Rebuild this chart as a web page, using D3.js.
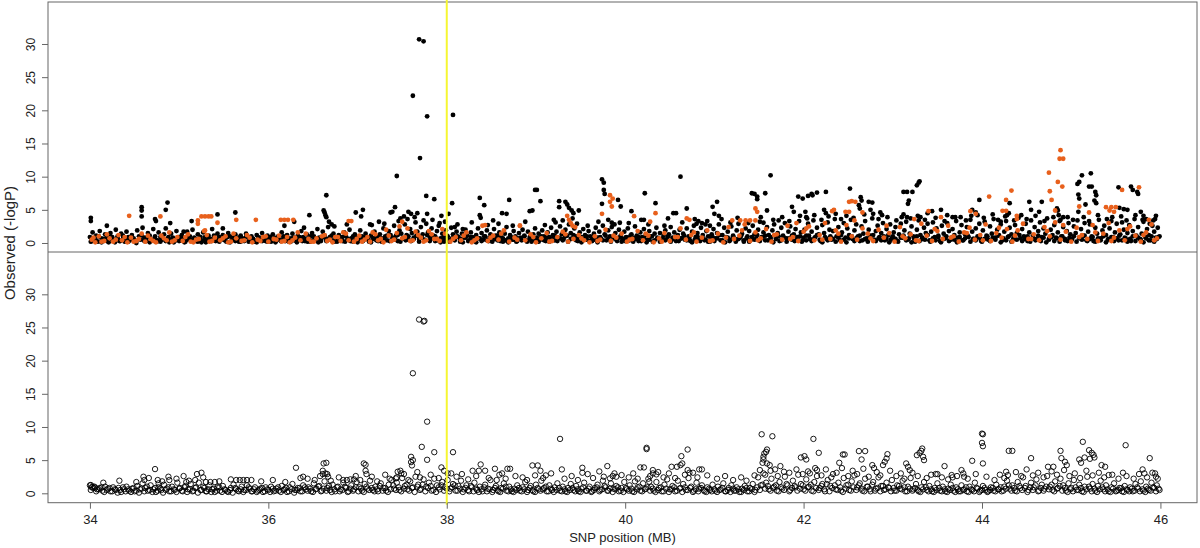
<!DOCTYPE html>
<html><head><meta charset="utf-8">
<script src="https://cdn.jsdelivr.net/npm/d3@7/dist/d3.min.js"></script>
<style>body{margin:0;background:#fff}svg{display:block;font-family:"Liberation Sans",Arial,Helvetica,sans-serif}</style>
</head><body>
<script>
// ---------- data ----------
const xTicks = [34, 36, 38, 40, 42, 44, 46];
const yTicks = [0, 5, 10, 15, 20, 25, 30];
const markerPos = 38;
const xTitle = "SNP position (MB)";
const yTitle = "Observed (-logP)";

// top panel, black points: dense band
const topBlackBand = [[34.00,0.9],[34.02,0.3],[34.03,1.6],[34.05,0.6],[34.07,1.1],[34.09,0.2],[34.11,1.8],[34.13,0.7],[34.15,0.4],[34.17,1.3],[34.19,0.8],[34.21,0.1],[34.23,1.5],[34.25,0.9],[34.27,0.5],[34.29,2.0],[34.31,1.0],[34.33,0.3],[34.35,1.4],[34.37,0.6],[34.39,0.2],[34.41,1.7],[34.43,0.9],[34.45,0.4],[34.47,1.2],[34.49,0.7],[34.51,0.2],[34.53,1.9],[34.55,1.0],[34.57,0.5],[34.59,2.3],[34.61,0.8],[34.63,0.3],[34.65,1.5],[34.67,1.1],[34.69,0.4],[34.71,2.1],[34.73,0.7],[34.75,0.2],[34.77,1.6],[34.79,0.9],[34.81,0.5],[34.83,1.3],[34.85,2.2],[34.87,0.6],[34.89,0.1],[34.91,1.4],[34.93,0.8],[34.95,0.3],[34.97,1.8],
[34.99,0.9],[35.01,0.4],[35.03,1.2],[35.05,0.6],[35.07,0.2],[35.09,1.7],[35.11,1.0],[35.13,0.5],[35.15,2.0],[35.17,0.8],[35.19,0.3],[35.21,1.3],[35.23,0.7],[35.25,0.1],[35.27,1.6],[35.29,0.9],[35.31,0.4],[35.33,1.1],[35.35,0.6],[35.37,2.1],[35.39,0.8],[35.41,0.3],[35.43,1.4],[35.45,0.9],[35.47,0.5],[35.49,1.2],[35.51,0.7],[35.53,0.2],[35.55,1.5],[35.57,1.0],[35.59,0.4],[35.61,0.8],[35.63,1.3],[35.65,0.6],[35.67,0.2],[35.69,1.1],[35.71,0.7],[35.73,0.3],[35.75,1.4],[35.77,0.9],[35.79,0.5],[35.81,1.0],[35.83,0.6],[35.85,0.2],[35.87,1.2],[35.89,0.8],[35.91,0.4],[35.93,1.5],[35.95,0.7],[35.97,0.3],
[35.99,1.1],[36.01,0.6],[36.03,0.2],[36.05,1.3],[36.07,0.8],[36.09,0.4],[36.11,1.0],[36.13,0.5],[36.15,1.6],[36.17,0.9],[36.19,0.3],[36.21,1.2],[36.23,0.7],[36.25,0.2],[36.27,1.4],[36.29,0.8],[36.31,0.4],[36.33,1.1],[36.35,0.6],[36.37,1.8],[36.39,0.9],[36.41,0.3],[36.43,1.3],[36.45,0.7],[36.47,0.2],[36.49,1.5],[36.51,1.0],[36.53,0.5],[36.55,2.1],[36.57,0.8],[36.59,0.3],[36.61,1.7],[36.63,1.1],[36.65,0.6],[36.67,2.4],[36.69,0.9],[36.71,0.4],[36.73,1.4],[36.75,0.7],[36.77,0.2],[36.79,1.2],[36.81,0.8],[36.83,0.3],[36.85,1.6],[36.87,1.0],[36.89,0.5],[36.91,2.0],[36.93,0.7],[36.95,0.2],[36.97,1.3],
[36.99,0.8],[37.01,0.4],[37.03,1.9],[37.05,1.0],[37.07,0.5],[37.09,1.4],[37.11,0.8],[37.13,0.2],[37.15,1.1],[37.17,0.6],[37.19,1.7],[37.21,0.9],[37.23,0.3],[37.25,1.3],[37.27,0.7],[37.29,2.2],[37.31,1.0],[37.33,0.4],[37.35,1.8],[37.37,1.2],[37.39,0.6],[37.41,2.6],[37.43,1.1],[37.45,0.3],[37.47,1.9],[37.49,1.4],[37.51,0.7],[37.53,2.8],[37.55,1.2],[37.57,0.5],[37.59,2.1],[37.61,1.5],[37.63,0.8],[37.65,3.1],[37.67,1.7],[37.69,0.6],[37.71,2.4],[37.73,1.3],[37.75,0.4],[37.77,2.9],[37.79,1.6],[37.81,0.9],[37.83,2.2],[37.85,1.1],[37.87,0.3],[37.89,1.8],[37.91,2.6],[37.93,0.7],[37.95,1.4],[37.97,0.2],
[37.99,1.9],[38.01,1.0],[38.03,0.5],[38.05,2.3],[38.07,1.3],[38.09,0.6],[38.11,1.7],[38.13,0.9],[38.15,0.2],[38.17,1.4],[38.19,0.8],[38.21,2.0],[38.23,1.1],[38.25,0.4],[38.27,1.6],[38.29,0.9],[38.31,0.3],[38.33,1.2],[38.35,2.2],[38.37,0.7],[38.39,1.5],[38.41,0.5],[38.43,1.0],[38.45,1.9],[38.47,0.3],[38.49,1.3],[38.51,0.8],[38.53,2.1],[38.55,1.1],[38.57,0.4],[38.59,1.6],[38.61,0.9],[38.63,0.2],[38.65,1.4],[38.67,2.4],[38.69,0.7],[38.71,1.2],[38.73,0.5],[38.75,1.8],[38.77,1.0],[38.79,0.3],[38.81,1.5],[38.83,0.8],[38.85,2.0],[38.87,1.1],[38.89,0.4],[38.91,1.7],[38.93,0.9],[38.95,0.2],[38.97,1.3],
[38.99,2.2],[39.01,0.8],[39.03,1.4],[39.05,0.5],[39.07,1.9],[39.09,1.0],[39.11,0.3],[39.13,1.6],[39.15,0.9],[39.17,2.3],[39.19,1.2],[39.21,0.4],[39.23,1.7],[39.25,0.8],[39.27,2.5],[39.29,1.3],[39.31,0.6],[39.33,2.0],[39.35,1.1],[39.37,2.8],[39.39,1.5],[39.41,0.7],[39.43,2.2],[39.45,1.0],[39.47,0.3],[39.49,1.6],[39.51,0.9],[39.53,2.1],[39.55,1.2],[39.57,0.5],[39.59,1.8],[39.61,1.0],[39.63,0.3],[39.65,1.4],[39.67,2.3],[39.69,0.8],[39.71,1.7],[39.73,0.6],[39.75,2.6],[39.77,1.3],[39.79,0.4],[39.81,1.9],[39.83,1.0],[39.85,2.4],[39.87,0.7],[39.89,1.5],[39.91,0.3],[39.93,2.0],[39.95,1.1],[39.97,0.6],
[39.99,1.7],[40.01,0.9],[40.03,2.2],[40.05,0.4],[40.07,1.3],[40.09,0.8],[40.11,2.5],[40.13,1.1],[40.15,0.3],[40.17,1.6],[40.19,0.9],[40.21,2.1],[40.23,1.2],[40.25,0.5],[40.27,1.8],[40.29,1.0],[40.31,0.2],[40.33,1.4],[40.35,2.3],[40.37,0.7],[40.39,1.5],[40.41,0.4],[40.43,1.1],[40.45,1.9],[40.47,0.6],[40.49,1.3],[40.51,2.4],[40.53,0.8],[40.55,1.6],[40.57,0.3],[40.59,1.2],[40.61,2.0],[40.63,0.7],[40.65,1.4],[40.67,0.5],[40.69,2.2],[40.71,1.0],[40.73,0.3],[40.75,1.7],[40.77,2.6],[40.79,0.9],[40.81,1.5],[40.83,0.6],[40.85,2.3],[40.87,1.2],[40.89,0.4],[40.91,1.8],[40.93,1.0],[40.95,0.2],[40.97,1.3],
[40.99,2.1],[41.01,0.7],[41.03,1.5],[41.05,2.8],[41.07,0.4],[41.09,1.2],[41.11,2.3],[41.13,0.9],[41.15,1.7],[41.17,0.3],[41.19,2.5],[41.21,1.1],[41.23,0.6],[41.25,1.9],[41.27,2.9],[41.29,0.8],[41.31,1.4],[41.33,0.2],[41.35,2.2],[41.37,1.0],[41.39,1.8],[41.41,0.5],[41.43,2.6],[41.45,1.3],[41.47,0.7],[41.49,2.0],[41.51,3.2],[41.53,0.9],[41.55,1.6],[41.57,0.4],[41.59,2.4],[41.61,1.2],[41.63,0.6],[41.65,1.9],[41.67,2.8],[41.69,0.8],[41.71,1.5],[41.73,0.3],[41.75,2.3],[41.77,1.1],[41.79,3.0],[41.81,0.7],[41.83,1.7],[41.85,2.5],[41.87,0.5],[41.89,1.3],[41.91,2.1],[41.93,0.9],[41.95,3.3],[41.97,1.6],
[41.99,0.4],[42.01,2.0],[42.03,1.1],[42.05,2.9],[42.07,0.6],[42.09,1.7],[42.11,3.4],[42.13,0.9],[42.15,2.3],[42.17,1.3],[42.19,0.3],[42.21,2.7],[42.23,1.5],[42.25,0.7],[42.27,3.1],[42.29,2.0],[42.31,0.5],[42.33,1.8],[42.35,3.6],[42.37,1.0],[42.39,2.4],[42.41,0.4],[42.43,1.6],[42.45,3.0],[42.47,0.8],[42.49,2.2],[42.51,1.2],[42.53,3.5],[42.55,0.6],[42.57,1.9],[42.59,2.8],[42.61,1.0],[42.63,0.3],[42.65,2.5],[42.67,1.4],[42.69,3.3],[42.71,0.7],[42.73,2.0],[42.75,1.1],[42.77,3.7],[42.79,0.5],[42.81,1.8],[42.83,2.6],[42.85,0.9],[42.87,1.5],[42.89,3.0],[42.91,0.4],[42.93,2.1],[42.95,1.2],[42.97,2.8],
[42.99,0.7],[43.01,1.6],[43.03,2.4],[43.05,0.3],[43.07,1.3],[43.09,2.9],[43.11,0.8],[43.13,1.9],[43.15,3.2],[43.17,0.5],[43.19,1.4],[43.21,2.5],[43.23,1.0],[43.25,0.2],[43.27,2.0],[43.29,3.4],[43.31,1.2],[43.33,0.6],[43.35,2.3],[43.37,1.5],[43.39,2.9],[43.41,0.4],[43.43,1.7],[43.45,3.1],[43.47,0.9],[43.49,2.2],[43.51,1.1],[43.53,0.3],[43.55,2.6],[43.57,1.4],[43.59,0.7],[43.61,3.0],[43.63,1.8],[43.65,0.5],[43.67,2.1],[43.69,1.2],[43.71,3.3],[43.73,0.8],[43.75,1.6],[43.77,2.7],[43.79,0.4],[43.81,1.3],[43.83,2.4],[43.85,0.9],[43.87,3.5],[43.89,1.7],[43.91,0.6],[43.93,2.2],[43.95,1.0],[43.97,2.9],
[43.99,0.3],[44.01,1.9],[44.03,3.2],[44.05,1.1],[44.07,0.5],[44.09,2.5],[44.11,1.4],[44.13,3.6],[44.15,0.8],[44.17,2.0],[44.19,1.2],[44.21,2.8],[44.23,0.4],[44.25,1.7],[44.27,3.3],[44.29,0.9],[44.31,2.3],[44.33,1.3],[44.35,0.6],[44.37,2.7],[44.39,1.5],[44.41,3.8],[44.43,0.7],[44.45,2.1],[44.47,1.0],[44.49,2.9],[44.51,0.3],[44.53,1.6],[44.55,3.4],[44.57,1.1],[44.59,2.4],[44.61,0.6],[44.63,1.8],[44.65,3.1],[44.67,0.9],[44.69,2.2],[44.71,1.4],[44.73,3.7],[44.75,0.5],[44.77,2.0],[44.79,1.2],[44.81,2.7],[44.83,0.8],[44.85,1.6],[44.87,3.3],[44.89,1.0],[44.91,2.4],[44.93,0.4],[44.95,1.8],[44.97,3.0],
[44.99,1.3],[45.01,0.6],[45.03,2.5],[45.05,1.5],[45.07,3.4],[45.09,0.8],[45.11,2.1],[45.13,1.1],[45.15,3.0],[45.17,0.4],[45.19,1.7],[45.21,2.8],[45.23,1.0],[45.25,0.3],[45.27,2.3],[45.29,1.4],[45.31,3.5],[45.33,0.7],[45.35,1.9],[45.37,2.6],[45.39,1.2],[45.41,0.5],[45.43,2.2],[45.45,3.3],[45.47,0.9],[45.49,1.6],[45.51,2.9],[45.53,0.4],[45.55,1.3],[45.57,3.1],[45.59,2.0],[45.61,0.7],[45.63,1.5],[45.65,2.7],[45.67,0.3],[45.69,1.8],[45.71,3.6],[45.73,1.1],[45.75,2.4],[45.77,0.6],[45.79,1.4],[45.81,3.2],[45.83,0.9],[45.85,2.1],[45.87,1.2],[45.89,0.4],[45.91,2.6],[45.93,1.7],[45.95,0.8],[45.97,2.3],[45.99,1.0]];

// top panel, black points: low core of the band
const topBlackCore = [[34.01,0.2],[34.04,0.7],[34.07,0.4],[34.10,1.0],[34.13,0.1],[34.16,0.6],[34.19,0.3],[34.22,0.9],[34.25,0.5],[34.28,0.1],[34.31,0.7],[34.34,0.3],[34.37,1.1],[34.40,0.5],[34.43,0.2],[34.46,0.8],[34.49,0.4],[34.52,0.0],[34.55,0.6],[34.58,1.2],[34.61,0.3],[34.64,0.8],[34.67,0.1],[34.70,0.5],[34.73,1.0],[34.76,0.4],[34.79,0.2],[34.82,0.7],[34.85,0.3],[34.88,0.9],[34.91,0.5],[34.94,0.1],[34.97,0.6],
[35.00,0.3],[35.03,0.8],[35.06,0.1],[35.09,0.5],[35.12,1.0],[35.15,0.3],[35.18,0.6],[35.21,0.2],[35.24,0.9],[35.27,0.4],[35.30,0.1],[35.33,0.7],[35.36,0.3],[35.39,1.1],[35.42,0.5],[35.45,0.2],[35.48,0.8],[35.51,0.4],[35.54,0.9],[35.57,0.1],[35.60,0.6],[35.63,0.3],[35.66,0.8],[35.69,0.2],[35.72,0.5],[35.75,0.9],[35.78,0.2],[35.81,0.6],[35.84,0.4],[35.87,0.1],[35.90,0.8],[35.93,0.3],[35.96,0.6],
[35.99,0.2],[36.02,0.9],[36.05,0.4],[36.08,0.1],[36.11,0.6],[36.14,0.3],[36.17,1.0],[36.20,0.5],[36.23,0.2],[36.26,0.7],[36.29,0.4],[36.32,0.1],[36.35,0.9],[36.38,0.3],[36.41,0.6],[36.44,0.2],[36.47,1.0],[36.50,0.4],[36.53,0.7],[36.56,0.1],[36.59,0.5],[36.62,0.9],[36.65,0.3],[36.68,0.6],[36.71,1.1],[36.74,0.2],[36.77,0.7],[36.80,0.4],[36.83,0.9],[36.86,0.2],[36.89,0.6],[36.92,0.3],[36.95,1.0],[36.98,0.5],
[37.00,0.1],[37.03,0.6],[37.06,0.3],[37.09,0.9],[37.12,0.5],[37.15,0.1],[37.18,0.7],[37.21,0.4],[37.24,1.0],[37.27,0.2],[37.30,0.6],[37.33,1.1],[37.36,0.3],[37.39,0.8],[37.42,0.5],[37.45,1.2],[37.48,0.2],[37.51,0.7],[37.54,0.4],[37.57,1.0],[37.60,0.3],[37.63,0.6],[37.66,1.1],[37.69,0.2],[37.72,0.8],[37.75,0.5],[37.78,1.2],[37.81,0.3],[37.84,0.7],[37.87,1.0],[37.90,0.4],[37.93,0.1],[37.96,0.8],
[37.98,0.5],[38.00,1.1],[38.03,0.2],[38.06,0.7],[38.09,0.4],[38.12,1.0],[38.15,0.6],[38.18,0.1],[38.21,0.8],[38.24,0.3],[38.27,0.9],[38.30,0.5],[38.33,0.1],[38.36,0.7],[38.39,0.3],[38.42,1.0],[38.45,0.4],[38.48,0.8],[38.51,0.2],[38.54,0.6],[38.57,1.1],[38.60,0.3],[38.63,0.7],[38.66,0.4],[38.69,0.1],[38.72,0.9],[38.75,0.5],[38.78,0.2],[38.81,0.7],[38.84,0.4],[38.87,1.0],[38.90,0.2],[38.93,0.6],[38.96,0.8],
[38.98,0.4],[39.00,0.6],[39.03,0.2],[39.06,1.0],[39.09,0.4],[39.12,0.8],[39.15,0.2],[39.18,0.6],[39.21,1.1],[39.24,0.3],[39.27,0.7],[39.30,0.4],[39.33,1.0],[39.36,0.2],[39.39,0.6],[39.42,1.2],[39.45,0.4],[39.48,0.8],[39.51,0.1],[39.54,0.6],[39.57,1.0],[39.60,0.3],[39.63,0.8],[39.66,0.5],[39.69,0.1],[39.72,0.9],[39.75,0.4],[39.78,1.1],[39.81,0.6],[39.84,0.2],[39.87,0.9],[39.90,0.5],[39.93,0.8],[39.96,0.2],
[39.98,0.6],[40.00,0.3],[40.03,0.8],[40.06,1.1],[40.09,0.2],[40.12,0.6],[40.15,0.9],[40.18,0.3],[40.21,0.7],[40.24,0.1],[40.27,0.5],[40.30,1.0],[40.33,0.4],[40.36,0.8],[40.39,0.2],[40.42,0.7],[40.45,0.4],[40.48,1.0],[40.51,0.2],[40.54,0.6],[40.57,0.9],[40.60,0.3],[40.63,0.7],[40.66,1.1],[40.69,0.4],[40.72,0.8],[40.75,0.1],[40.78,0.5],[40.81,1.0],[40.84,0.3],[40.87,0.7],[40.90,0.5],[40.93,0.2],[40.96,0.8],
[40.98,0.9],[41.00,0.3],[41.03,0.7],[41.06,1.2],[41.09,0.4],[41.12,0.1],[41.15,0.8],[41.18,0.5],[41.21,1.0],[41.24,0.2],[41.27,0.6],[41.30,1.1],[41.33,0.4],[41.36,0.7],[41.39,0.2],[41.42,0.9],[41.45,0.5],[41.48,1.2],[41.51,0.3],[41.54,0.8],[41.57,1.1],[41.60,0.4],[41.63,0.9],[41.66,0.1],[41.69,0.6],[41.72,1.0],[41.75,0.4],[41.78,0.8],[41.81,0.2],[41.84,0.7],[41.87,1.1],[41.90,0.3],[41.93,0.6],[41.96,1.0],
[41.98,0.2],[42.00,0.8],[42.03,0.4],[42.06,1.1],[42.09,0.3],[42.12,0.7],[42.15,1.2],[42.18,0.5],[42.21,0.1],[42.24,0.9],[42.27,0.4],[42.30,1.0],[42.33,0.6],[42.36,0.2],[42.39,0.8],[42.42,1.2],[42.45,0.5],[42.48,0.1],[42.51,0.7],[42.54,1.0],[42.57,0.3],[42.60,0.8],[42.63,1.1],[42.66,0.4],[42.69,0.6],[42.72,0.2],[42.75,0.9],[42.78,1.2],[42.81,0.3],[42.84,0.7],[42.87,0.4],[42.90,1.0],[42.93,0.6],[42.96,0.1],
[42.98,0.5],[43.00,1.0],[43.03,0.6],[43.06,0.2],[43.09,0.8],[43.12,1.1],[43.15,0.4],[43.18,0.7],[43.21,0.1],[43.24,0.6],[43.27,1.0],[43.30,0.3],[43.33,0.8],[43.36,0.5],[43.39,1.2],[43.42,0.2],[43.45,0.7],[43.48,0.4],[43.51,0.9],[43.54,0.1],[43.57,0.6],[43.60,1.0],[43.63,0.3],[43.66,0.8],[43.69,0.5],[43.72,0.1],[43.75,0.9],[43.78,0.4],[43.81,0.7],[43.84,1.1],[43.87,0.2],[43.90,0.6],[43.93,0.4],[43.96,0.9],
[43.98,0.7],[44.00,0.2],[44.03,0.6],[44.06,1.0],[44.09,0.3],[44.12,0.8],[44.15,0.5],[44.18,1.1],[44.21,0.1],[44.24,0.7],[44.27,0.4],[44.30,1.0],[44.33,0.2],[44.36,0.8],[44.39,0.5],[44.42,1.2],[44.45,0.3],[44.48,0.6],[44.51,1.0],[44.54,0.2],[44.57,0.7],[44.60,0.4],[44.63,1.1],[44.66,0.3],[44.69,0.8],[44.72,0.1],[44.75,0.6],[44.78,0.9],[44.81,0.3],[44.84,0.7],[44.87,0.2],[44.90,1.0],[44.93,0.6],[44.96,0.3],
[44.98,0.8],[45.00,0.4],[45.03,1.0],[45.06,0.2],[45.09,0.7],[45.12,0.5],[45.15,1.1],[45.18,0.3],[45.21,0.6],[45.24,0.9],[45.27,0.2],[45.30,0.7],[45.33,0.4],[45.36,1.0],[45.39,0.1],[45.42,0.6],[45.45,0.9],[45.48,0.3],[45.51,0.7],[45.54,1.1],[45.57,0.4],[45.60,0.8],[45.63,0.2],[45.66,0.6],[45.69,1.0],[45.72,0.3],[45.75,0.8],[45.78,0.5],[45.81,0.1],[45.84,0.7],[45.87,0.4],[45.90,1.0],[45.93,0.2],[45.96,0.6],[45.98,0.9]];

// top panel, black points: mid values (2-4.5)
const topBlackMid = [[36.18,2.6],[36.40,2.3],[36.88,2.8],[37.16,2.7],[37.24,3.2],[37.30,2.9],[37.46,3.3],[37.56,3.6],[37.64,3.9],[37.74,3.4],[37.84,3.5],[37.92,3.0],[38.12,2.8],[38.28,3.1],[38.46,2.7],[38.58,2.9],[38.74,2.6],[38.88,3.2],[39.10,2.7],[39.22,3.1],[39.30,3.4],[39.46,2.9],[39.58,2.6],[39.70,3.2],[39.88,2.8],[40.04,3.0],[40.26,2.8],[40.44,2.6],[40.64,3.1],[40.80,2.9],[40.92,3.3],[41.08,3.6],[41.18,3.1],[41.26,3.8],[41.38,3.0],[41.52,3.9],[41.66,3.5],[41.76,3.9],[41.84,3.3],[41.96,4.1],[42.04,3.7],[42.12,4.2],[42.20,3.5],[42.28,4.0],[42.36,4.4],[42.42,3.6],[42.48,4.1],[42.56,3.8],[42.68,4.3],[42.78,4.4],[42.84,3.6],[42.94,3.9],[43.04,3.4],[43.10,3.9],[43.20,3.7],[43.28,4.1],[43.36,3.5],[43.48,3.8],[43.58,3.3],[43.70,3.9],[43.82,3.4],[43.88,4.1],[44.02,3.8],[44.12,4.3],[44.18,3.5],[44.26,4.0],[44.36,3.4],[44.44,4.2],[44.50,3.6],[44.60,4.1],[44.70,3.3],[44.80,3.9],[44.88,3.5],[44.96,3.9],[45.02,3.5],[45.14,3.9],[45.20,3.3],[45.30,4.2],[45.40,3.6],[45.46,3.9],[45.56,4.0],[45.62,3.4],[45.72,4.2],[45.80,3.5],[45.88,2.9],[45.92,3.4]];

// top panel, black points: higher values
const topBlackHigh = [[34.01,3.8],[34.01,3.3],[34.19,2.6],[34.58,5.4],[34.58,4.9],[34.58,4.0],[34.73,3.6],[34.74,3.3],[34.85,5.0],[34.87,6.1],[34.90,3.0],[35.05,1.7],[35.14,3.3],[35.43,4.3],[35.49,2.2],[35.63,4.6],[36.29,3.2],[36.46,4.2],[36.62,4.9],[36.63,4.6],[36.64,4.2],[36.65,3.9],[36.65,7.2],[36.68,3.2],[36.71,2.8],[36.74,2.5],[36.98,4.6],[37.06,5.0],[37.04,4.0],[37.14,2.8],[37.37,4.6],[37.39,4.7],[37.42,5.4],[37.44,10.1],[37.48,3.7],[37.52,4.0],[37.57,4.7],[37.60,4.4],[37.67,4.5],[37.70,12.8],[37.77,7.1],[37.78,4.4],[37.69,30.7],[37.74,30.4],[37.62,22.2],[37.78,19.1],[38.07,19.3],[37.86,6.6],[37.94,4.1],[38.02,4.4],[37.98,3.2],[38.06,6.0],[38.09,2.4],[38.18,2.1],[38.37,6.8],[38.37,4.2],[38.38,3.8],[38.42,5.7],[38.52,3.4],[38.62,4.5],[38.67,4.4],[38.70,6.5],[38.93,4.8],[38.96,4.9],[38.99,8.0],[39.01,8.0],[39.05,6.3],[39.20,3.5],[39.26,6.3],[39.26,5.4],[39.33,6.2],[39.35,5.8],[39.37,5.3],[39.40,4.9],[39.42,4.5],[39.41,3.7],[39.48,4.9],[39.74,9.6],[39.76,9.1],[39.76,8.0],[39.77,7.4],[39.74,5.9],[39.92,6.5],[39.95,5.5],[39.81,3.5],[39.85,3.05],[39.94,3.05],[40.07,4.8],[40.22,7.5],[40.18,3.5],[40.21,3.5],[40.34,6.0],[40.48,3.7],[40.54,4.5],[40.57,4.5],[40.62,10.0],[40.69,5.2],[40.78,3.6],[40.82,3.3],[40.86,3.0],[40.90,2.8],[40.95,2.6],[41.03,6.2],[40.98,5.45],[41.00,4.4],[41.05,4.1],[41.42,7.5],[41.45,7.4],[41.48,7.0],[41.48,6.6],[41.57,7.5],[41.63,10.2],[41.59,4.9],[41.55,3.05],[41.72,3.4],[41.87,5.45],[41.89,4.7],[41.94,7.0],[41.99,6.7],[42.05,7.1],[42.09,7.4],[42.02,4.7],[42.03,3.9],[42.10,7.2],[42.15,7.6],[42.25,7.7],[42.23,5.0],[42.25,4.5],[42.52,8.2],[42.64,6.9],[42.65,6.4],[42.73,6.2],[42.77,6.1],[42.62,5.7],[42.63,5.2],[42.75,5.0],[42.86,4.6],[42.88,4.2],[43.12,7.7],[43.16,7.7],[43.22,7.7],[43.18,6.4],[43.17,5.9],[43.27,8.7],[43.29,9.1],[43.30,9.3],[43.12,4.3],[43.16,3.9],[43.31,3.9],[43.39,4.5],[43.44,4.8],[43.54,5.0],[43.61,4.2],[43.67,3.9],[43.76,3.9],[43.89,5.0],[43.93,4.6],[43.95,4.2],[43.97,6.5],[44.21,3.2],[44.31,6.0],[44.28,4.2],[44.30,4.5],[44.53,6.2],[44.55,5.0],[44.64,4.7],[44.67,6.2],[44.84,5.2],[44.85,4.9],[44.86,4.2],[44.91,3.9],[45.07,8.9],[45.09,9.2],[45.08,7.3],[45.09,6.7],[45.12,10.2],[45.22,10.5],[45.20,8.5],[45.23,8.5],[45.27,7.7],[45.28,7.2],[45.26,6.4],[45.28,6.0],[45.16,5.8],[45.08,4.7],[45.54,5.3],[45.59,5.1],[45.63,5.0],[45.53,8.4],[45.67,8.5],[45.69,8.0],[45.74,7.7],[45.75,7.4],[45.78,4.7],[45.81,4.1],[45.84,3.6],[45.95,4.1],[45.94,3.6]];

// top panel, orange points
const topOrange = [[34.02,0.5],[34.06,0.1],[34.10,1.0],[34.16,0.3],[34.22,0.7],[34.26,0.2],[34.32,1.2],[34.36,0.4],[34.42,0.1],[34.46,0.8],[34.52,0.3],[34.58,1.4],[34.62,0.2],[34.68,0.6],[34.74,0.1],[34.80,1.1],[34.86,0.4],[34.92,0.2],[34.98,0.9],[35.04,0.3],[35.10,1.3],[35.16,0.1],[35.22,0.6],[35.28,1.8],[35.34,0.2],[35.40,0.8],[35.46,0.4],[35.52,1.0],[35.58,0.2],[35.64,0.7],[35.70,0.3],[35.76,1.2],[35.82,0.1],[35.88,0.5],[35.94,0.9],[36.00,0.2],[36.06,0.6],[36.12,1.1],[36.18,0.3],[36.24,0.1],[36.30,0.8],[36.36,0.4],[36.42,1.4],[36.48,0.2],[36.54,0.7],[36.60,1.0],[36.66,0.3],[36.72,0.1],[36.78,0.9],[36.84,1.6],[36.90,0.4],[36.96,0.2],[37.02,1.1],[37.08,0.5],[37.14,0.2],[37.20,1.3],[37.26,0.6],[37.32,2.0],[37.38,0.3],[37.44,1.5],[37.50,0.7],[37.56,2.2],[37.62,0.4],[37.68,1.2],[37.74,0.2],[37.80,1.8],[37.86,0.6],[37.92,0.3],[37.98,1.4],
[38.04,0.2],[38.10,0.9],[38.16,0.4],[38.22,1.6],[38.28,0.1],[38.34,0.7],[38.40,2.6],[38.46,0.3],[38.52,1.1],[38.58,0.5],[38.64,1.9],[38.70,0.2],[38.76,0.8],[38.82,2.6],[38.88,0.4],[38.94,1.3],[39.00,0.1],[39.06,0.7],[39.12,1.5],[39.18,0.3],[39.24,0.9],[39.30,1.7],[39.36,0.2],[39.42,0.6],[39.48,1.2],[39.54,0.4],[39.60,0.1],[39.66,1.0],[39.72,0.5],[39.78,2.0],[39.84,0.3],[39.90,0.8],[39.96,1.4],[40.02,0.2],[40.08,0.6],[40.14,1.8],[40.20,0.4],[40.26,1.1],[40.32,0.1],[40.38,0.7],[40.44,1.5],[40.50,0.3],[40.56,0.9],[40.62,2.2],[40.68,0.5],[40.74,1.2],[40.80,0.2],[40.86,0.8],[40.92,1.9],[40.98,0.4],[41.04,1.4],[41.10,0.1],[41.16,2.4],[41.22,0.6],[41.28,1.1],[41.34,2.8],[41.40,0.3],[41.46,1.6],[41.52,0.7],[41.58,2.1],[41.64,0.2],[41.70,1.3],[41.76,0.5],[41.82,2.6],[41.88,0.9],[41.94,0.3],[42.00,1.7],[42.06,2.5],[42.12,0.4],[42.18,1.2],[42.24,3.0],[42.30,0.6],[42.36,1.9],[42.42,0.2],[42.48,2.7],[42.54,1.0],[42.60,0.5],[42.66,2.2],[42.72,1.4],[42.78,0.3],[42.84,2.0],[42.90,0.8],[42.96,1.5],[43.02,0.2],[43.08,2.4],[43.14,0.7],[43.20,1.3],[43.26,0.4],[43.32,2.9],[43.38,1.1],[43.44,0.3],[43.50,1.8],[43.56,0.6],[43.62,2.6],[43.68,1.0],[43.74,0.2],[43.80,1.6],[43.86,2.3],[43.92,0.5],[43.98,1.2],[44.04,2.8],[44.10,0.3],[44.16,1.5],[44.22,0.8],[44.28,2.1],[44.34,0.2],[44.40,1.9],[44.46,2.9],[44.52,0.6],[44.58,1.3],[44.64,0.4],[44.70,2.4],[44.76,1.0],[44.82,3.1],[44.88,0.5],[44.94,1.7],[45.00,0.2],[45.06,2.3],[45.12,1.2],[45.18,0.6],[45.24,2.7],[45.30,0.3],[45.36,1.4],[45.42,3.0],[45.48,0.8],[45.54,1.9],[45.60,0.4],[45.66,2.5],[45.72,1.1],[45.78,0.2],[45.84,1.6],[45.90,2.8],[45.96,0.7],
[34.04,0.8],[34.13,0.2],[34.19,1.3],[34.29,0.5],[34.39,0.9],[34.49,0.2],[34.55,0.6],[34.65,1.1],[34.71,0.3],[34.83,0.7],[34.89,1.6],[34.95,0.4],[35.07,0.9],[35.13,0.2],[35.19,0.5],[35.31,1.2],[35.37,0.3],[35.49,0.7],[35.55,0.1],[35.61,1.4],[35.73,0.4],[35.79,0.8],[35.91,0.3],[35.97,1.0],[36.09,0.5],[36.15,0.2],[36.21,0.9],[36.27,0.4],[36.33,1.6],[36.45,0.6],[36.51,0.2],[36.63,1.2],[36.69,0.5],[36.75,0.9],[36.81,0.3],[36.87,1.4],[36.99,0.6],[37.05,0.2],[37.11,0.9],[37.17,1.6],[37.23,0.4],[37.29,0.1],[37.35,1.1],[37.41,0.5],[37.47,2.5],[37.53,0.9],[37.59,0.3],[37.65,1.7],[37.71,0.8],[37.77,0.4],[37.83,1.3],[37.89,0.6],[37.95,2.1],[38.07,0.6],[38.19,1.1],[38.31,0.4],[38.49,0.8],[38.61,1.4],[38.79,0.5],[38.97,0.9],[39.15,0.2],[39.33,1.3],[39.51,0.7],[39.69,0.3],[39.87,1.1],[40.05,0.5],[40.23,1.4],[40.41,0.2],[40.59,0.9],[40.77,1.6],[40.95,0.3],[41.13,0.8],[41.31,1.9],[41.49,0.4],[41.67,1.2],[41.85,0.6],[42.03,2.2],[42.21,0.5],[42.39,1.4],[42.57,3.4],[42.75,0.7],[42.93,2.6],[43.11,1.0],[43.29,0.3],[43.47,2.1],[43.65,0.8],[43.83,1.5],[44.01,0.4],[44.19,2.3],[44.37,1.1],[44.55,0.6],[44.73,1.8],[44.91,2.7],[45.09,0.9],[45.27,1.6],[45.45,0.3],[45.63,2.1],[45.81,1.2],[45.93,0.4],
[34.44,4.1],[34.79,4.0],[35.21,3.4],[35.21,2.9],[35.25,4.0],[35.29,4.0],[35.33,4.0],[35.36,4.0],[35.29,1.9],[35.43,3.05],[35.64,3.5],[35.86,3.5],[36.14,3.5],[36.18,3.5],[36.22,3.5],[36.28,3.5],[36.90,3.3],[36.93,3.3],[37.50,3.2],[38.43,2.7],[38.82,2.6],[39.35,4.1],[39.37,3.5],[39.39,3.0],[39.41,2.6],[39.44,2.4],[39.74,4.4],[39.83,7.2],[39.86,6.7],[39.83,6.2],[39.85,5.5],[40.10,4.05],[40.28,3.2],[40.34,4.5],[40.69,3.7],[40.72,3.5],[41.20,3.4],[41.29,3.4],[41.35,3.4],[41.40,3.4],[41.46,3.4],[41.46,5.2],[41.48,4.7],[41.92,3.0],[42.34,5.0],[42.32,4.8],[42.47,4.7],[42.51,4.7],[42.51,6.2],[42.54,6.3],[42.58,6.2],[42.66,4.6],[43.24,3.6],[43.40,4.8],[43.54,3.9],[43.87,4.8],[43.93,4.4],[44.08,7.0],[44.23,4.85],[44.27,4.85],[44.27,6.5],[44.33,7.9],[44.39,4.1],[44.39,3.6],[44.75,10.6],[44.76,7.8],[44.78,6.5],[44.82,4.9],[44.85,9.2],[44.88,14.0],[44.87,12.7],[44.91,12.7],[44.90,8.5],[45.09,5.5],[45.20,4.6],[45.39,5.4],[45.45,5.4],[45.50,5.4],[45.43,4.9],[45.48,4.7],[45.57,8.0],[45.76,8.4],[45.87,3.5]];

// bottom panel, open circles: dense band
const botBand = [[34.00,1.2],[34.02,0.9],[34.05,1.0],[34.08,0.6],[34.11,0.8],[34.14,0.4],[34.17,1.0],[34.20,0.7],[34.23,0.3],[34.26,0.9],[34.29,0.5],[34.32,0.8],[34.35,0.2],[34.38,0.6],[34.41,1.0],[34.44,0.4],[34.47,0.7],[34.50,0.3],[34.53,1.1],[34.56,0.6],[34.59,1.5],[34.62,0.8],[34.65,0.4],[34.68,1.2],[34.71,0.6],[34.74,0.2],[34.77,0.9],[34.80,0.5],[34.83,1.3],[34.86,0.7],[34.89,0.3],[34.92,1.0],[34.95,0.5],[34.98,1.6],
[35.01,0.8],[35.04,0.3],[35.07,1.1],[35.10,0.6],[35.13,1.4],[35.16,0.4],[35.19,0.9],[35.22,1.6],[35.25,0.5],[35.28,0.8],[35.31,0.3],[35.34,1.2],[35.37,0.6],[35.40,0.2],[35.43,0.9],[35.46,0.4],[35.49,1.1],[35.52,0.5],[35.55,0.2],[35.58,0.8],[35.61,1.3],[35.64,0.6],[35.67,0.3],[35.70,1.0],[35.73,0.5],[35.76,1.2],[35.79,0.7],[35.82,0.3],[35.85,0.9],[35.88,0.4],[35.91,0.7],[35.94,0.2],[35.97,0.9],
[36.00,0.5],[36.03,1.0],[36.06,0.3],[36.09,0.7],[36.12,0.4],[36.15,1.1],[36.18,0.6],[36.21,0.2],[36.24,0.9],[36.27,1.4],[36.30,0.5],[36.33,0.8],[36.36,0.3],[36.39,1.2],[36.42,0.6],[36.45,0.9],[36.48,0.3],[36.51,1.5],[36.54,0.7],[36.57,1.1],[36.60,0.4],[36.63,1.8],[36.66,0.8],[36.69,0.5],[36.72,1.3],[36.75,0.3],[36.78,1.0],[36.81,0.6],[36.84,1.6],[36.87,0.8],[36.90,0.3],[36.93,1.2],[36.96,0.6],[36.99,1.7],
[37.02,0.9],[37.05,0.4],[37.08,1.4],[37.11,0.7],[37.14,1.9],[37.17,0.5],[37.20,1.0],[37.23,0.3],[37.26,1.5],[37.29,0.8],[37.32,0.4],[37.35,1.3],[37.38,2.0],[37.41,0.7],[37.44,1.6],[37.47,0.5],[37.50,2.3],[37.53,1.1],[37.56,0.6],[37.59,1.8],[37.62,0.9],[37.65,2.5],[37.68,1.3],[37.71,0.7],[37.74,2.1],[37.77,1.0],[37.80,1.6],[37.83,0.4],[37.86,2.2],[37.89,1.2],[37.92,0.6],[37.95,1.7],[37.98,0.9],
[38.01,2.0],[38.04,0.7],[38.07,1.4],[38.10,0.4],[38.13,1.1],[38.16,1.9],[38.19,0.6],[38.22,1.2],[38.25,0.3],[38.28,0.9],[38.31,1.6],[38.34,0.5],[38.37,1.0],[38.40,0.3],[38.43,1.3],[38.46,0.7],[38.49,2.0],[38.52,0.5],[38.55,1.1],[38.58,0.3],[38.61,0.8],[38.64,1.5],[38.67,0.4],[38.70,1.0],[38.73,0.3],[38.76,0.7],[38.79,1.2],[38.82,0.4],[38.85,0.9],[38.88,1.7],[38.91,0.5],[38.94,1.1],[38.97,0.3],
[39.00,1.3],[39.03,0.6],[39.06,1.9],[39.09,0.8],[39.12,0.3],[39.15,1.2],[39.18,0.5],[39.21,0.9],[39.24,1.5],[39.27,0.4],[39.30,1.0],[39.33,0.3],[39.36,0.8],[39.39,1.4],[39.42,0.5],[39.45,1.1],[39.48,0.3],[39.51,0.7],[39.54,1.6],[39.57,0.4],[39.60,1.0],[39.63,0.3],[39.66,0.8],[39.69,1.3],[39.72,0.5],[39.75,1.9],[39.78,0.9],[39.81,0.4],[39.84,1.5],[39.87,0.7],[39.90,1.1],[39.93,0.3],[39.96,0.8],[39.99,1.7],
[40.02,0.6],[40.05,1.2],[40.08,0.3],[40.11,1.8],[40.14,0.9],[40.17,0.4],[40.20,1.5],[40.23,0.7],[40.26,2.2],[40.29,1.0],[40.32,0.4],[40.35,1.7],[40.38,0.8],[40.41,0.3],[40.44,1.3],[40.47,2.1],[40.50,0.6],[40.53,1.1],[40.56,0.3],[40.59,1.9],[40.62,0.8],[40.65,1.4],[40.68,0.5],[40.71,2.3],[40.74,1.0],[40.77,0.4],[40.80,1.6],[40.83,0.7],[40.86,1.2],[40.89,0.3],[40.92,0.9],[40.95,0.5],[40.98,1.3],
[41.01,0.4],[41.04,1.0],[41.07,0.6],[41.10,1.5],[41.13,0.3],[41.16,0.8],[41.19,1.2],[41.22,0.4],[41.25,0.9],[41.28,0.2],[41.31,0.7],[41.34,1.1],[41.37,0.3],[41.40,0.8],[41.43,1.4],[41.46,0.5],[41.49,2.4],[41.52,1.2],[41.55,3.0],[41.58,1.6],[41.61,0.6],[41.64,2.2],[41.67,1.0],[41.70,0.4],[41.73,1.7],[41.76,0.7],[41.79,2.5],[41.82,1.2],[41.85,0.5],[41.88,1.9],[41.91,0.9],[41.94,2.8],[41.97,1.4],
[42.00,0.6],[42.03,2.1],[42.06,1.0],[42.09,0.4],[42.12,1.7],[42.15,2.6],[42.18,0.8],[42.21,1.4],[42.24,0.3],[42.27,2.0],[42.30,1.1],[42.33,2.9],[42.36,0.6],[42.39,1.6],[42.42,0.4],[42.45,2.3],[42.48,1.2],[42.51,0.5],[42.54,1.8],[42.57,2.7],[42.60,0.9],[42.63,1.5],[42.66,0.4],[42.69,2.2],[42.72,1.0],[42.75,0.3],[42.78,1.7],[42.81,0.7],[42.84,2.4],[42.87,1.1],[42.90,0.5],[42.93,1.6],[42.96,0.8],[42.99,2.0],
[43.02,0.4],[43.05,1.2],[43.08,0.7],[43.11,1.9],[43.14,0.3],[43.17,1.0],[43.20,2.3],[43.23,0.6],[43.26,1.4],[43.29,0.3],[43.32,0.9],[43.35,1.7],[43.38,0.5],[43.41,1.1],[43.44,0.3],[43.47,0.8],[43.50,1.5],[43.53,0.4],[43.56,1.0],[43.59,0.3],[43.62,0.7],[43.65,1.3],[43.68,0.4],[43.71,0.9],[43.74,0.3],[43.77,1.2],[43.80,0.6],[43.83,0.3],[43.86,1.0],[43.89,0.5],[43.92,1.6],[43.95,0.7],[43.98,0.4],
[44.01,1.1],[44.04,0.5],[44.07,0.3],[44.10,0.9],[44.13,0.4],[44.16,1.3],[44.19,0.6],[44.22,0.3],[44.25,1.0],[44.28,1.9],[44.31,0.7],[44.34,1.2],[44.37,0.4],[44.40,1.7],[44.43,0.8],[44.46,2.4],[44.49,1.1],[44.52,0.5],[44.55,1.6],[44.58,0.9],[44.61,2.1],[44.64,0.4],[44.67,1.3],[44.70,0.7],[44.73,2.6],[44.76,1.0],[44.79,0.5],[44.82,1.8],[44.85,0.8],[44.88,2.2],[44.91,1.2],[44.94,0.4],[44.97,1.5],
[45.00,0.8],[45.03,2.0],[45.06,0.5],[45.09,1.3],[45.12,0.3],[45.15,1.0],[45.18,2.5],[45.21,0.7],[45.24,1.4],[45.27,0.4],[45.30,1.1],[45.33,1.9],[45.36,0.6],[45.39,1.2],[45.42,0.3],[45.45,0.9],[45.48,1.5],[45.51,0.4],[45.54,0.8],[45.57,0.3],[45.60,1.1],[45.63,0.5],[45.66,0.9],[45.69,0.3],[45.72,1.4],[45.75,0.7],[45.78,1.8],[45.81,0.4],[45.84,1.0],[45.87,0.5],[45.90,1.6],[45.93,0.8],[45.96,1.2],[45.99,0.5]];

// bottom panel, open circles: low core of the band
const botCore = [[34.01,0.5],[34.04,0.8],[34.07,0.3],[34.10,0.6],[34.13,0.9],[34.16,0.2],[34.19,0.5],[34.22,0.8],[34.25,0.3],[34.28,0.6],[34.31,0.1],[34.34,0.5],[34.37,0.9],[34.40,0.3],[34.43,0.6],[34.46,0.2],[34.49,0.8],[34.52,0.4],[34.55,0.1],[34.58,0.7],[34.61,0.3],[34.64,1.0],[34.67,0.5],[34.70,0.2],[34.73,0.8],[34.76,0.4],[34.79,0.7],[34.82,0.1],[34.85,0.5],[34.88,0.9],[34.91,0.3],[34.94,0.6],[34.97,0.2],
[35.00,0.7],[35.03,0.4],[35.06,0.9],[35.09,0.2],[35.12,0.6],[35.15,0.3],[35.18,0.8],[35.21,0.1],[35.24,0.5],[35.27,1.0],[35.30,0.3],[35.33,0.6],[35.36,0.2],[35.39,0.7],[35.42,0.4],[35.45,0.9],[35.48,0.2],[35.51,0.6],[35.54,0.3],[35.57,0.5],[35.60,0.1],[35.63,0.8],[35.66,0.4],[35.69,0.6],[35.72,0.2],[35.75,0.5],[35.78,0.9],[35.81,0.3],[35.84,0.6],[35.87,0.2],[35.90,0.5],[35.93,0.8],[35.96,0.3],
[35.99,0.6],[36.02,0.2],[36.05,0.7],[36.08,0.4],[36.11,0.9],[36.14,0.2],[36.17,0.5],[36.20,0.8],[36.23,0.3],[36.26,0.6],[36.29,0.1],[36.32,0.5],[36.35,0.8],[36.38,0.3],[36.41,0.9],[36.44,0.4],[36.47,0.7],[36.50,0.2],[36.53,0.6],[36.56,1.0],[36.59,0.3],[36.62,0.7],[36.65,0.4],[36.68,1.1],[36.71,0.2],[36.74,0.6],[36.77,0.9],[36.80,0.3],[36.83,0.5],[36.86,1.0],[36.89,0.2],[36.92,0.7],[36.95,0.4],[36.98,0.9],
[37.01,0.3],[37.04,0.7],[37.07,0.2],[37.10,1.0],[37.13,0.5],[37.16,0.8],[37.19,0.3],[37.22,0.6],[37.25,1.1],[37.28,0.4],[37.31,0.8],[37.34,0.2],[37.37,0.6],[37.40,1.2],[37.43,0.5],[37.46,0.9],[37.49,0.3],[37.52,0.7],[37.55,1.3],[37.58,0.4],[37.61,0.8],[37.64,0.2],[37.67,1.0],[37.70,0.5],[37.73,1.3],[37.76,0.3],[37.79,0.8],[37.82,1.1],[37.85,0.5],[37.88,0.2],[37.91,0.9],[37.94,1.2],[37.97,0.4],
[38.00,0.7],[38.03,0.3],[38.06,0.9],[38.09,1.2],[38.12,0.4],[38.15,0.7],[38.18,0.2],[38.21,0.8],[38.24,0.5],[38.27,1.1],[38.30,0.3],[38.33,0.7],[38.36,0.2],[38.39,0.6],[38.42,0.9],[38.45,0.3],[38.48,0.6],[38.51,0.2],[38.54,0.8],[38.57,0.5],[38.60,0.2],[38.63,0.7],[38.66,1.0],[38.69,0.3],[38.72,0.6],[38.75,0.2],[38.78,0.5],[38.81,0.8],[38.84,0.3],[38.87,0.6],[38.90,0.2],[38.93,0.8],[38.96,0.5],
[38.99,0.2],[39.02,0.8],[39.05,0.4],[39.08,0.6],[39.11,1.0],[39.14,0.3],[39.17,0.7],[39.20,0.2],[39.23,0.5],[39.26,0.8],[39.29,0.3],[39.32,0.6],[39.35,0.2],[39.38,0.5],[39.41,0.8],[39.44,0.3],[39.47,0.6],[39.50,0.2],[39.53,0.9],[39.56,0.4],[39.59,0.7],[39.62,0.2],[39.65,0.5],[39.68,0.9],[39.71,0.3],[39.74,0.6],[39.77,1.1],[39.80,0.4],[39.83,0.7],[39.86,0.2],[39.89,0.6],[39.92,0.9],[39.95,0.4],[39.98,0.2],
[40.01,0.8],[40.04,0.4],[40.07,0.7],[40.10,0.2],[40.13,0.6],[40.16,1.0],[40.19,0.3],[40.22,0.6],[40.25,0.9],[40.28,0.4],[40.31,0.7],[40.34,0.2],[40.37,0.5],[40.40,0.9],[40.43,0.3],[40.46,0.7],[40.49,0.2],[40.52,0.6],[40.55,0.9],[40.58,0.4],[40.61,0.7],[40.64,0.2],[40.67,0.9],[40.70,0.5],[40.73,0.8],[40.76,0.2],[40.79,0.6],[40.82,0.3],[40.85,0.8],[40.88,0.5],[40.91,0.2],[40.94,0.7],[40.97,0.3],
[41.00,0.6],[41.03,0.2],[41.06,0.5],[41.09,0.8],[41.12,0.3],[41.15,0.5],[41.18,0.2],[41.21,0.7],[41.24,0.4],[41.27,0.6],[41.30,0.2],[41.33,0.5],[41.36,0.8],[41.39,0.3],[41.42,0.6],[41.45,0.2],[41.48,0.9],[41.51,0.5],[41.54,1.3],[41.57,0.7],[41.60,1.1],[41.63,0.4],[41.66,0.8],[41.69,1.2],[41.72,0.3],[41.75,0.9],[41.78,0.5],[41.81,1.4],[41.84,0.3],[41.87,0.8],[41.90,1.1],[41.93,0.4],[41.96,0.7],[41.99,1.2],
[42.02,0.4],[42.05,0.9],[42.08,1.3],[42.11,0.3],[42.14,0.8],[42.17,0.5],[42.20,1.1],[42.23,0.6],[42.26,1.4],[42.29,0.3],[42.32,0.8],[42.35,1.2],[42.38,0.5],[42.41,0.9],[42.44,0.2],[42.47,0.7],[42.50,1.3],[42.53,0.4],[42.56,0.9],[42.59,0.5],[42.62,1.2],[42.65,0.7],[42.68,0.3],[42.71,1.0],[42.74,0.6],[42.77,1.3],[42.80,0.4],[42.83,0.8],[42.86,0.3],[42.89,1.1],[42.92,0.6],[42.95,0.9],[42.98,0.3],
[43.01,0.8],[43.04,0.4],[43.07,1.1],[43.10,0.6],[43.13,0.9],[43.16,0.3],[43.19,0.7],[43.22,0.4],[43.25,0.8],[43.28,0.5],[43.31,0.2],[43.34,0.6],[43.37,0.9],[43.40,0.3],[43.43,0.6],[43.46,0.2],[43.49,0.5],[43.52,0.8],[43.55,0.3],[43.58,0.6],[43.61,0.2],[43.64,0.5],[43.67,0.8],[43.70,0.2],[43.73,0.6],[43.76,0.3],[43.79,0.5],[43.82,0.9],[43.85,0.2],[43.88,0.6],[43.91,0.3],[43.94,0.8],[43.97,0.2],
[44.00,0.5],[44.03,0.8],[44.06,0.2],[44.09,0.5],[44.12,0.8],[44.15,0.3],[44.18,0.6],[44.21,0.9],[44.24,0.4],[44.27,0.7],[44.30,1.2],[44.33,0.4],[44.36,0.8],[44.39,0.3],[44.42,1.1],[44.45,0.5],[44.48,0.8],[44.51,0.2],[44.54,0.9],[44.57,0.5],[44.60,1.2],[44.63,0.3],[44.66,0.8],[44.69,0.4],[44.72,1.0],[44.75,0.6],[44.78,1.3],[44.81,0.3],[44.84,0.7],[44.87,1.1],[44.90,0.4],[44.93,0.8],[44.96,0.2],
[44.99,0.6],[45.02,0.3],[45.05,0.9],[45.08,0.5],[45.11,0.8],[45.14,0.2],[45.17,0.6],[45.20,1.0],[45.23,0.3],[45.26,0.7],[45.29,0.2],[45.32,0.6],[45.35,0.9],[45.38,0.3],[45.41,0.6],[45.44,0.2],[45.47,0.7],[45.50,0.3],[45.53,0.5],[45.56,0.8],[45.59,0.2],[45.62,0.6],[45.65,0.3],[45.68,0.7],[45.71,0.4],[45.74,0.9],[45.77,0.3],[45.80,0.6],[45.83,0.2],[45.86,0.7],[45.89,0.4],[45.92,0.9],[45.95,0.3],[45.98,0.7]];

// bottom panel, open circles: mid values
const botMid = [[34.15,1.6],[34.33,1.9],[34.52,1.7],[34.66,2.3],[34.81,1.8],[34.97,2.2],[35.11,1.9],[35.27,2.4],[35.45,1.8],[35.58,2.1],[35.92,1.8],[36.05,2.0],[36.19,1.7],[36.36,2.3],[36.52,2.0],[36.58,2.6],[36.70,1.9],[36.79,2.4],[36.98,2.6],[37.03,2.0],[37.16,2.5],[37.22,1.8],[37.31,2.8],[37.36,2.2],[37.52,2.9],[37.57,2.0],[37.67,3.2],[37.70,2.4],[37.82,2.8],[37.91,2.3],[37.97,3.4],[38.11,2.5],[38.17,2.9],[38.24,2.1],[38.33,2.6],[38.47,2.3],[38.59,2.8],[38.66,2.2],[38.77,2.6],[38.90,2.0],[38.99,2.7],[39.08,2.3],[39.17,3.0],[39.32,2.2],[39.40,2.6],[39.47,2.0],[39.58,2.9],[39.64,2.3],[39.71,3.3],[39.86,2.6],[40.04,2.4],[40.09,3.0],[40.14,2.2],[40.28,2.6],[40.37,3.2],[40.43,2.4],[40.49,3.0],[40.56,2.3],[40.67,2.8],[40.76,3.1],[40.81,2.4],[40.92,2.7],[41.03,2.2],[41.12,2.6],[41.21,2.0],[41.30,2.4],[41.36,1.9],[41.45,2.7],[41.51,3.5],[41.57,2.8],[41.63,3.4],[41.71,2.6],[41.84,3.1],[41.92,3.6],[41.99,2.9],[42.05,3.3],[42.20,2.7],[42.25,3.6],[42.31,2.4],[42.37,3.1],[42.43,3.8],[42.50,2.6],[42.55,3.4],[42.60,2.9],[42.67,3.7],[42.73,2.5],[42.82,3.2],[42.86,2.7],[42.97,3.4],[43.04,2.6],[43.09,3.0],[43.13,2.2],[43.22,3.1],[43.28,2.6],[43.38,2.3],[43.43,2.8],[43.55,2.4],[43.62,2.1],[43.72,2.6],[43.84,2.2],[43.93,2.9],[44.05,2.5],[44.14,2.0],[44.20,2.8],[44.25,2.3],[44.38,3.2],[44.44,2.6],[44.50,3.6],[44.57,2.7],[44.63,3.1],[44.69,2.4],[44.78,3.3],[44.84,2.8],[44.92,3.5],[44.98,2.6],[45.04,3.0],[45.10,2.3],[45.17,3.4],[45.24,2.7],[45.31,3.1],[45.37,2.4],[45.46,2.8],[45.53,2.2],[45.62,2.6],[45.70,2.2],[45.76,2.9],[45.85,2.4],[45.91,3.1],[45.97,2.2]];

// bottom panel, open circles: higher values
const botHigh = [[37.69,26.2],[37.74,25.9],[37.75,26.0],[37.62,18.1],[37.78,10.8],[37.72,7.0],[37.86,6.2],[38.07,6.2],[37.78,5.05],[37.60,5.5],[37.60,4.7],[37.61,4.2],[37.62,5.0],[37.94,3.9],[38.01,3.0],[38.05,3.0],[36.62,4.5],[36.65,4.6],[37.07,4.5],[37.09,4.3],[37.09,3.4],[37.10,2.9],[37.48,3.4],[37.49,3.0],[37.44,2.4],[37.45,3.25],[38.38,4.35],[38.29,3.4],[38.36,3.4],[38.43,3.4],[38.54,3.7],[38.62,3.0],[38.68,3.7],[38.71,3.7],[38.85,2.4],[38.96,4.2],[39.02,4.2],[39.05,3.4],[39.11,2.7],[38.56,2.0],[34.01,1.25],[34.03,1.0],[34.06,0.85],[34.73,3.65],[34.60,2.5],[34.61,2.0],[34.76,2.0],[34.77,1.5],[34.88,2.5],[34.89,2.0],[35.05,2.6],[35.08,1.7],[35.20,2.9],[35.25,3.1],[35.18,2.0],[35.30,1.7],[35.35,1.7],[35.40,1.7],[35.64,2.0],[35.68,2.0],[35.72,2.0],[35.76,2.0],[35.81,2.0],[36.31,3.85],[36.39,2.5],[36.44,2.2],[36.61,3.4],[36.61,2.9],[36.64,3.0],[36.66,2.9],[36.67,2.5],[36.84,2.0],[36.88,2.0],[36.92,2.1],[36.96,2.1],[37.43,2.25],[39.27,8.2],[39.29,3.6],[39.52,3.85],[39.52,3.1],[39.80,4.1],[39.76,2.5],[39.83,2.25],[39.88,3.0],[39.90,2.5],[39.96,2.75],[40.17,3.9],[40.21,3.9],[40.24,6.86],[40.24,6.66],[40.31,3.5],[40.31,3.0],[40.27,1.75],[40.35,2.85],[40.52,4.0],[40.58,4.0],[40.62,4.25],[40.64,4.5],[40.63,5.6],[40.70,6.6],[40.70,3.5],[40.72,3.1],[40.83,3.6],[40.86,3.6],[41.53,8.9],[41.65,8.6],[41.59,6.6],[41.58,6.25],[41.56,6.0],[41.55,5.5],[41.55,5.1],[41.54,4.6],[41.59,4.5],[41.62,4.25],[41.68,3.6],[41.74,4.1],[41.78,3.25],[41.97,5.4],[42.01,5.6],[42.03,5.1],[42.11,8.2],[42.17,6.1],[42.13,3.8],[42.15,3.5],[42.07,3.0],[42.44,5.85],[42.46,5.85],[42.40,4.6],[42.62,6.36],[42.69,6.36],[42.65,5.1],[42.79,3.8],[42.77,4.25],[42.89,4.25],[42.91,4.75],[42.93,5.25],[42.94,5.9],[43.15,4.5],[43.17,4.0],[43.19,3.5],[43.27,5.75],[43.30,6.1],[43.32,6.4],[43.33,6.75],[43.35,5.0],[43.34,5.5],[43.58,4.1],[43.48,2.9],[43.50,2.9],[43.66,2.75],[43.67,2.4],[43.77,3.5],[43.79,3.0],[43.80,2.5],[43.89,4.9],[44.00,9.0],[44.01,8.9],[44.00,7.6],[44.01,7.1],[44.01,4.5],[44.27,3.25],[44.29,2.75],[44.30,6.4],[44.34,6.4],[44.55,5.3],[44.74,4.0],[44.80,4.0],[44.88,6.4],[44.89,5.3],[44.93,4.75],[44.95,4.25],[45.09,5.1],[45.11,4.6],[45.13,7.76],[45.15,5.4],[45.21,5.2],[45.26,5.4],[45.20,6.5],[45.23,6.1],[45.25,5.8],[45.34,4.25],[45.38,4.0],[45.42,2.75],[45.58,3.1],[45.61,7.25],[45.80,3.6],[45.82,3.0],[45.88,5.3],[45.94,3.0],[45.95,2.5]];

// ---------- drawing ----------
const W = 1200, H = 548;
const L = 48, R = 1197, T = 2, MID = 252, B = 502.7;
const orange = "#e8601c";
const frameCol = "#666";

const svg = d3.select("body").append("svg").attr("width", W).attr("height", H);

const x = d3.scaleLinear().domain([33.53, 46.41]).range([L, R]);
const yTop = d3.scaleLinear().domain([-1.357, 36.33]).range([MID, T]);
const yBot = d3.scaleLinear().domain([-1.417, 36.38]).range([B, MID]);

// points top
const gTop = svg.append("g");
gTop.selectAll("circle.b").data(topBlackCore.concat(topBlackBand, topBlackMid, topBlackHigh)).enter().append("circle")
  .attr("class", "b")
  .attr("cx", d => x(d[0])).attr("cy", d => yTop(d[1])).attr("r", 2.4).attr("fill", "#000");
gTop.selectAll("circle.o").data(topOrange).enter().append("circle")
  .attr("class", "o")
  .attr("cx", d => x(d[0])).attr("cy", d => yTop(d[1])).attr("r", 2.4).attr("fill", orange);

// points bottom
const gBot = svg.append("g");
gBot.selectAll("circle").data(botCore.concat(botBand, botMid, botHigh)).enter().append("circle")
  .attr("cx", d => x(d[0])).attr("cy", d => yBot(d[1])).attr("r", 2.7)
  .attr("fill", "none").attr("stroke", "#000").attr("stroke-width", 0.9);

// frames
svg.append("rect").attr("x", L).attr("y", T).attr("width", R - L).attr("height", B - T)
  .attr("fill", "none").attr("stroke", frameCol).attr("stroke-width", 1);
svg.append("line").attr("x1", L).attr("x2", R).attr("y1", MID).attr("y2", MID)
  .attr("stroke", frameCol).attr("stroke-width", 1);

// marker line
svg.append("line").attr("x1", x(markerPos)).attr("x2", x(markerPos)).attr("y1", 0).attr("y2", B + 2)
  .attr("stroke", "#f6f632").attr("stroke-width", 2);

// y axes
function yAxis(scale) {
  const g = svg.append("g").attr("transform", `translate(${L},0)`)
    .call(d3.axisLeft(scale).tickValues(yTicks).tickSize(6).tickFormat(d3.format("d")));
  g.select(".domain").remove();
  g.selectAll(".tick line").attr("stroke", frameCol);
  g.selectAll(".tick text").attr("x", null).attr("dy", null)
    .attr("transform", "translate(-13,0) rotate(-90)")
    .attr("text-anchor", "middle").attr("font-size", 12)
    .attr("font-family", "Liberation Sans, Arial, sans-serif").attr("fill", "#222");
}
yAxis(yTop);
yAxis(yBot);

// x axis
const gx = svg.append("g").attr("transform", `translate(0,${B})`)
  .call(d3.axisBottom(x).tickValues(xTicks).tickSize(6).tickPadding(6).tickFormat(d3.format("d")));
gx.select(".domain").remove();
gx.selectAll(".tick line").attr("stroke", frameCol);
gx.selectAll(".tick text").attr("font-size", 13)
  .attr("font-family", "Liberation Sans, Arial, sans-serif").attr("fill", "#222");

// titles
svg.append("text").attr("x", (L + R) / 2).attr("y", 542).attr("text-anchor", "middle")
  .attr("font-size", 13).attr("fill", "#222").text(xTitle);
svg.append("text").attr("transform", "translate(15,243) rotate(-90)").attr("text-anchor", "middle")
  .attr("font-size", 15).attr("fill", "#222").text(yTitle);
</script>
</body></html>
